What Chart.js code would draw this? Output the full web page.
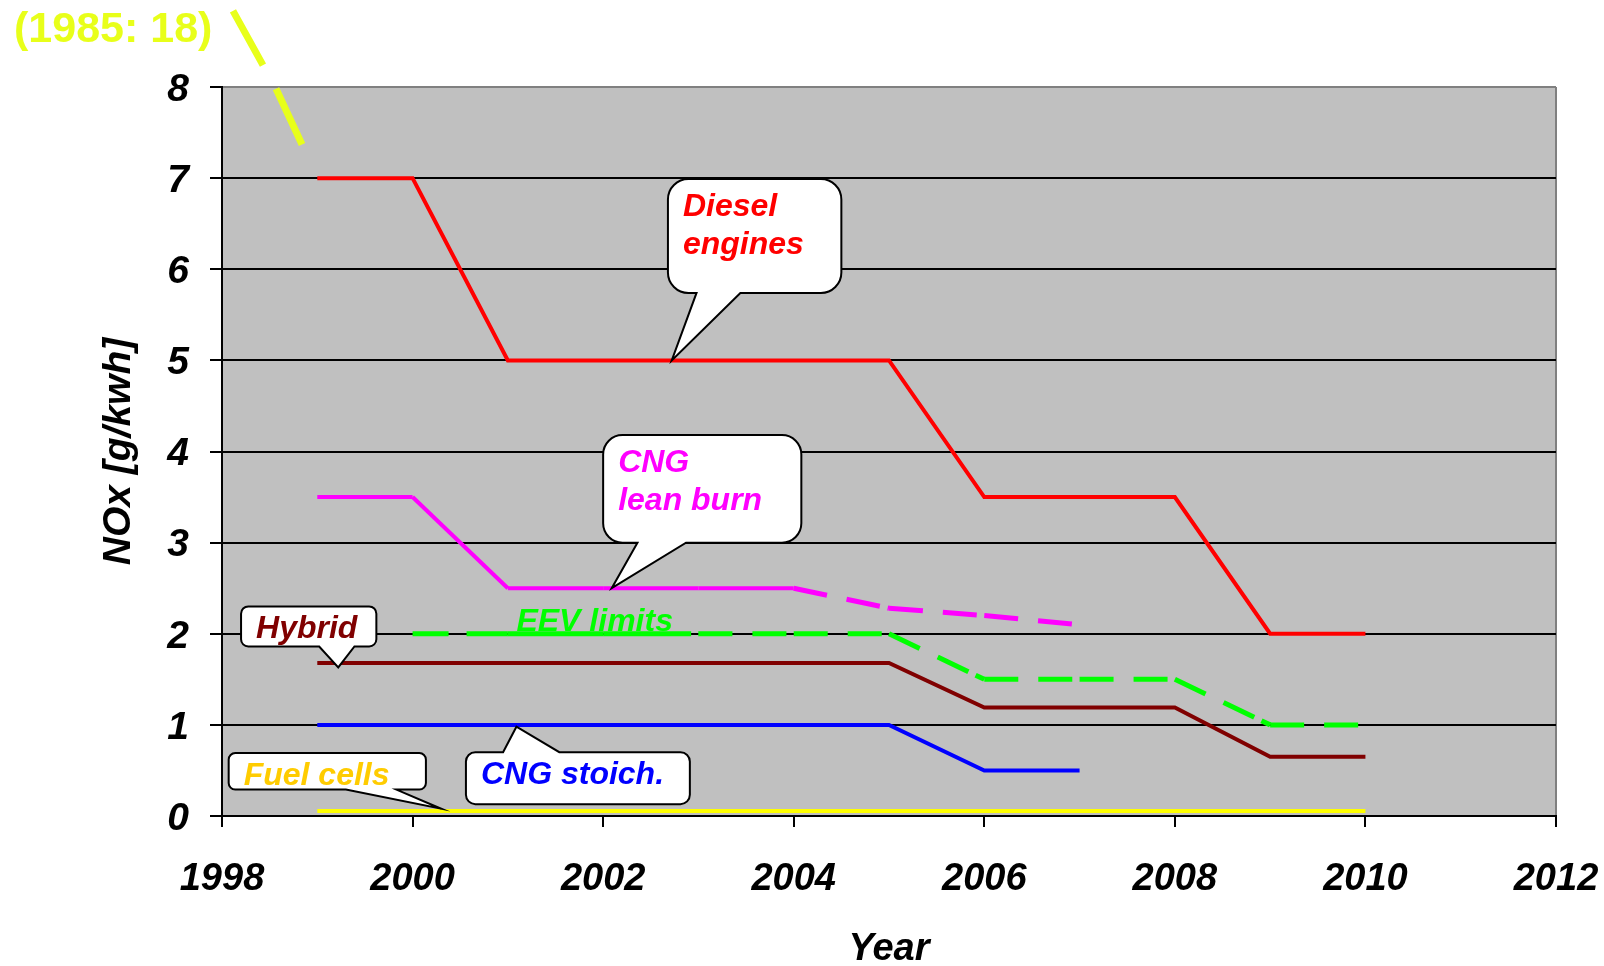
<!DOCTYPE html>
<html><head><meta charset="utf-8">
<script src="https://cdn.jsdelivr.net/npm/chart.js@4.4.1/dist/chart.umd.min.js"></script>
<style>html,body{margin:0;padding:0;background:#fff}#wrap{width:1604px;height:966px;position:relative}</style>
</head><body><div id="wrap"><canvas id="c"></canvas></div>
<script>
// ---- data ----
const years      = [1999, 2000, 2001, 2002, 2003, 2004, 2005, 2006, 2007, 2008, 2009, 2010];
const diesel     = [7, 7, 5, 5, 5, 5, 5, 3.5, 3.5, 3.5, 2, 2];
const cngLean    = [3.5, 3.5, 2.5, 2.5, 2.5, 2.5, 2.28, 2.2, 2.1, null, null, null];
const cngLeanDashFrom = 2004;
const eevLimits  = [null, 2, 2, 2, 2, 2, 2, 1.5, 1.5, 1.5, 1, 1];
const hybrid     = [1.68, 1.68, 1.68, 1.68, 1.68, 1.68, 1.68, 1.19, 1.19, 1.19, 0.65, 0.65];
const cngStoich  = [1, 1, 1, 1, 1, 1, 1, 0.5, 0.5, null, null, null];
const fuelCells  = [0.055, 0.055, 0.055, 0.055, 0.055, 0.055, 0.055, 0.055, 0.055, 0.055, 0.055, 0.055];
// broken-axis hint towards the 1985 value (18), drawn above the plot
const breakX     = [1998.115, 1998.43, 1998.5, 1998.567, 1998.84];
const breakY     = [8.835, 8.24, null, 7.98, 7.37];
const breakLabel = '(1985: 18)';

const xTicks = [1998, 2000, 2002, 2004, 2006, 2008, 2010, 2012];
const yTicks = [0, 1, 2, 3, 4, 5, 6, 7, 8];

// callouts: box [x0,x1,yTop,yBottom] in data units, pointer base x's, tip
const callouts = [
  {lines: ['Diesel', 'engines'], color: '#ff0000', box: [2002.68, 2004.50, 6.99, 5.74], side: 'bottom', base: [2002.98, 2003.44], tip: [2002.72, 5.0]},
  {lines: ['CNG', 'lean burn'], color: '#ff00ff', box: [2002.00, 2004.08, 4.18, 3.0], side: 'bottom', base: [2002.36, 2002.87], tip: [2002.09, 2.5]},
  {lines: ['Hybrid'], color: '#800000', box: [1998.20, 1999.62, 2.30, 1.86], side: 'bottom', base: [1999.02, 1999.39], tip: [1999.22, 1.63]},
  {lines: ['Fuel cells'], color: '#ffcc00', box: [1998.07, 2000.14, 0.69, 0.29], side: 'bottom', base: [1999.30, 1999.83], tip: [2000.30, 0.08]},
  {lines: ['CNG stoich.'], color: '#0000ff', box: [2000.56, 2002.91, 0.70, 0.13], side: 'top', base: [2000.95, 2001.54], tip: [2001.09, 0.98]}
];
const eevLabel = {text: 'EEV limits', x: 2001.09, y: 2.03, color: '#00ff00'};

const FONT = '"Liberation Sans", Arial, sans-serif';
const pts = arr => years.map((x, i) => ({x, y: arr[i]})).filter(p => p.y !== null && p.y !== undefined);

const dashRestart = ctx => (ctx.p0DataIndex % 2 ? 0.01 : 0);
const DASH = [34, 20, 34, 8];
// the flat EEV stretch 2000-2003 shows only a few breaks
const eevSegDash = [[36, 18, 200, 0], [], [88, 7, 200, 0]];

const bgPlugin = {
  id: 'bg',
  beforeDraw(chart) {
    const {ctx, chartArea: a} = chart;
    ctx.save(); ctx.fillStyle = '#c0c0c0';
    ctx.fillRect(a.left, a.top, a.right - a.left, a.bottom - a.top);
    ctx.restore();
  }
};

function drawCallout(ctx, xs, ys, c) {
  const L = xs.getPixelForValue(c.box[0]), R = xs.getPixelForValue(c.box[1]);
  const T = ys.getPixelForValue(c.box[2]), B = ys.getPixelForValue(c.box[3]);
  const r = Math.min(R - L, B - T) * 0.18;
  const b0 = xs.getPixelForValue(c.base[0]), b1 = xs.getPixelForValue(c.base[1]);
  const tx = xs.getPixelForValue(c.tip[0]), ty = ys.getPixelForValue(c.tip[1]);
  ctx.save();
  ctx.beginPath();
  ctx.moveTo(L + r, T);
  if (c.side === 'top') { ctx.lineTo(b0, T); ctx.lineTo(tx, ty); ctx.lineTo(b1, T); }
  ctx.lineTo(R - r, T);
  ctx.arcTo(R, T, R, T + r, r);
  ctx.lineTo(R, B - r);
  ctx.arcTo(R, B, R - r, B, r);
  if (c.side === 'bottom') { ctx.lineTo(b1, B); ctx.lineTo(tx, ty); ctx.lineTo(b0, B); }
  ctx.lineTo(L + r, B);
  ctx.arcTo(L, B, L, B - r, r);
  ctx.lineTo(L, T + r);
  ctx.arcTo(L, T, L + r, T, r);
  ctx.closePath();
  ctx.fillStyle = '#ffffff'; ctx.fill();
  ctx.lineWidth = 2; ctx.strokeStyle = '#000'; ctx.lineJoin = 'miter'; ctx.stroke();
  ctx.fillStyle = c.color;
  ctx.font = 'italic bold 32px ' + FONT;
  ctx.textBaseline = 'alphabetic'; ctx.textAlign = 'left';
  const lh = 38;
  const first = c.lines.length > 1 ? T + 37 : T + 31.5;
  c.lines.forEach((t, i) => ctx.fillText(t, L + 15, first + i * lh));
  ctx.restore();
}

const annPlugin = {
  id: 'ann',
  afterDatasetsDraw(chart) {
    const {ctx} = chart;
    const xs = chart.scales.x, ys = chart.scales.y;
    callouts.forEach(c => drawCallout(ctx, xs, ys, c));
    ctx.save();
    ctx.font = 'italic bold 32px ' + FONT;
    ctx.fillStyle = eevLabel.color; ctx.textBaseline = 'alphabetic'; ctx.textAlign = 'left';
    ctx.fillText(eevLabel.text, xs.getPixelForValue(eevLabel.x), ys.getPixelForValue(eevLabel.y));
    ctx.font = 'bold 43px ' + FONT;
    ctx.fillStyle = '#e8ff1a';
    ctx.fillText(breakLabel, 14, 42);
    ctx.restore();
  }
};

const lineDs = (label, data, color, extra) => Object.assign({
  label, data, borderColor: color, backgroundColor: color, borderWidth: 4,
  pointRadius: 0, pointHoverRadius: 0, tension: 0, fill: false, borderCapStyle: 'butt', borderJoinStyle: 'miter'
}, extra || {});

new Chart(document.getElementById('c'), {
  type: 'line',
  data: {
    datasets: [
      lineDs('Fuel cells', pts(fuelCells), '#ffff00', {borderWidth: 4}),
      lineDs('CNG stoich.', pts(cngStoich), '#0000ff'),
      lineDs('Hybrid', pts(hybrid), '#800000'),
      lineDs('EEV limits', pts(eevLimits), '#00ff00', {borderWidth: 5, segment: {
        borderDash: ctx => eevSegDash[ctx.p0DataIndex] || DASH,
        borderDashOffset: dashRestart}}),
      lineDs('CNG lean burn', pts(cngLean), '#ff00ff', {segment: {
        borderDash: ctx => ctx.p0.parsed.x >= cngLeanDashFrom ? DASH : [],
        borderWidth: ctx => ctx.p0.parsed.x >= cngLeanDashFrom ? 5 : 4,
        borderDashOffset: dashRestart}}),
      lineDs('Diesel engines', pts(diesel), '#ff0000'),
      lineDs('break', breakX.map((x, i) => ({x, y: breakY[i]})), '#e8ff1a', {borderWidth: 7, clip: false, spanGaps: false})
    ]
  },
  options: {
    responsive: true, maintainAspectRatio: false, animation: false,
    events: [],
    layout: {padding: {top: 87, right: 48, left: 0, bottom: 0}},
    plugins: {legend: {display: false}, tooltip: {enabled: false}},
    scales: {
      x: {
        type: 'linear', min: 1998, max: 2012,
        afterFit: s => { s.height = 150; s.paddingLeft = 0; s.paddingRight = 0; },
        afterBuildTicks: s => { s.ticks = xTicks.map(v => ({value: v})); },
        ticks: {callback: v => String(v), color: '#000', font: {family: FONT, size: 38, style: 'italic', weight: 'bold'}, padding: 30, maxRotation: 0, autoSkip: false},
        grid: {drawOnChartArea: true, color: ctx => (ctx.tick && ctx.tick.value === 2012 ? '#808080' : 'rgba(0,0,0,0)'), lineWidth: 2, tickColor: '#000', tickLength: 11, tickWidth: 2},
        border: {display: true, color: '#000', width: 2},
        title: {display: true, text: 'Year', color: '#000', font: {family: FONT, size: 38, style: 'italic', weight: 'bold', lineHeight: 1}, padding: {top: 0, bottom: -3}}
      },
      y: {
        min: 0, max: 8,
        afterFit: s => { s.width = 222; s.paddingTop = 0; s.paddingBottom = 0; },
        afterBuildTicks: s => { s.ticks = yTicks.map(v => ({value: v})); },
        ticks: {color: '#000', font: {family: FONT, size: 39, style: 'italic', weight: 'bold'}, padding: 21, labelOffset: 3},
        grid: {color: ctx => (ctx.tick && ctx.tick.value === 8 ? '#808080' : '#000'), lineWidth: 2, tickColor: '#000', tickLength: 12, tickWidth: 2},
        border: {display: true, color: '#000', width: 2},
        title: {display: true, text: 'NOx [g/kwh]', color: '#000', font: {family: FONT, size: 39, style: 'italic', weight: 'bold', lineHeight: 1.2}, padding: {top: 96, bottom: 0}}
      }
    }
  },
  plugins: [bgPlugin, annPlugin]
});
</script>
</body></html>
